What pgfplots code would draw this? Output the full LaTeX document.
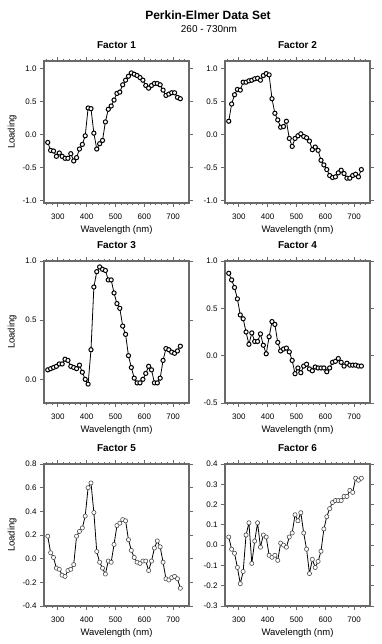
\documentclass[border=0pt]{standalone}
\usepackage{fontspec}
\setmainfont{Liberation Sans}
\usepackage{pgfplots}
\usepackage{pgfplotstable}
\pgfplotsset{compat=1.18}
\definecolor{axgray}{RGB}{105,105,105}

\pgfplotstableread{
x f1 f2 f3 f4 f5 f6
265 -0.12 0.20 0.08 0.87 0.19 0.04
275 -0.24 0.46 0.09 0.80 0.05 -0.02
285 -0.25 0.60 0.10 0.72 0.01 -0.04
295 -0.33 0.68 0.11 0.60 -0.08 -0.11
305 -0.28 0.67 0.13 0.43 -0.09 -0.19
315 -0.33 0.79 0.13 0.39 -0.14 -0.13
325 -0.36 0.79 0.17 0.25 -0.15 0.05
335 -0.36 0.81 0.16 0.12 -0.10 0.11
345 -0.29 0.82 0.11 0.24 -0.09 -0.09
355 -0.40 0.84 0.10 0.15 -0.05 0.02
365 -0.35 0.85 0.09 0.15 0.19 0.11
375 -0.22 0.82 0.12 0.23 0.23 -0.01
385 -0.15 0.89 0.06 0.11 0.26 0.05
395 -0.02 0.92 0.00 0.02 0.36 0.04
405 0.40 0.90 -0.04 0.20 0.60 -0.05
415 0.39 0.54 0.25 0.36 0.64 -0.06
425 0.02 0.32 0.78 0.33 0.39 -0.05
435 -0.22 0.22 0.91 0.14 0.06 -0.075
445 -0.14 0.11 0.95 0.05 -0.03 0.01
455 -0.09 0.12 0.93 0.07 -0.08 0.00
465 0.19 0.20 0.92 0.08 -0.13 -0.01
475 0.38 -0.06 0.84 0.04 -0.02 0.04
485 0.43 -0.18 0.84 -0.05 -0.03 0.06
495 0.52 -0.06 0.73 -0.19 0.12 0.15
505 0.62 -0.02 0.64 -0.13 0.28 0.12
515 0.64 0.01 0.60 -0.18 0.30 0.16
525 0.75 -0.03 0.45 -0.11 0.33 0.06
535 0.82 -0.05 0.38 -0.09 0.32 -0.02
545 0.88 -0.10 0.20 -0.14 0.16 -0.14
555 0.93 -0.23 0.10 -0.16 0.07 -0.07
565 0.91 -0.19 0.01 -0.12 0.01 -0.11
575 0.89 -0.24 -0.03 -0.13 -0.03 -0.08
585 0.86 -0.39 -0.03 -0.13 -0.04 -0.03
595 0.82 -0.46 0.00 -0.13 -0.02 0.08
605 0.74 -0.53 0.05 -0.17 -0.02 0.14
615 0.70 -0.62 0.11 -0.13 -0.10 0.18
625 0.74 -0.65 0.08 -0.07 -0.02 0.21
635 0.77 -0.64 -0.03 -0.06 0.09 0.22
645 0.77 -0.58 -0.03 -0.03 0.15 0.22
655 0.75 -0.54 0.01 -0.07 0.10 0.22
665 0.67 -0.59 0.16 -0.11 -0.03 0.24
675 0.59 -0.66 0.26 -0.08 -0.17 0.24
685 0.61 -0.66 0.25 -0.10 -0.18 0.27
695 0.63 -0.62 0.23 -0.10 -0.16 0.26
705 0.63 -0.60 0.22 -0.10 -0.15 0.33
715 0.56 -0.64 0.24 -0.11 -0.17 0.32
725 0.54 -0.53 0.28 -0.11 -0.25 0.33
}\data

\pgfplotsset{
  panel/.style={
    scale only axis, width=145pt, height=142pt, anchor=south west,
    xmin=252, xmax=755,
    xtick={300,400,500,600,700},
    minor xtick={260,280,...,740},
    tick align=outside,
    axis line style={axgray, line width=1.6pt},
    every tick/.style={axgray, line width=0.8pt},
    major tick length=4pt, minor tick length=2.2pt,
    ytick pos=both, xtick pos=both,
    xticklabel pos=bottom, yticklabel pos=left,
    /pgf/number format/assume math mode=true,
    ticklabel style={font=\fontsize{8}{9}\selectfont},
    xticklabel style={/pgf/number format/.cd, fixed, precision=0, /tikz/.cd, yshift=-3pt},
    yticklabel style={/pgf/number format/.cd, fixed, fixed zerofill, precision=1},
    title style={font=\bfseries\fontsize{10}{12}\selectfont, at={(0.5,1)}, anchor=south, yshift=3pt},
    xlabel={Wavelength (nm)},
    xlabel style={font=\fontsize{9.5}{11}\selectfont, at={(axis description cs:0.5,-0.19)}, anchor=center},
    ylabel style={font=\fontsize{9.5}{11}\selectfont, at={(axis description cs:-0.22,0.5)}, anchor=center, rotate=0},
    clip=false,
  },
  dataline/.style={black, line width=0.8pt, mark=*, mark size=2.1pt, mark options={fill=white, draw=black, line width=1pt}},
}

\begin{document}
\begin{tikzpicture}[x=1pt,y=1pt]
\node[font=\bfseries\fontsize{12}{14}\selectfont] at (208,629) {Perkin-Elmer Data Set};
\node[font=\fontsize{10}{12}\selectfont] at (209,615) {260 - 730nm};

\begin{axis}[panel, at={(44pt,441pt)}, title={Factor 1}, ylabel={Loading},
  ymin=-1.035, ymax=1.11, ytick={-1,-0.5,0,0.5,1}]
\addplot[dataline] table[x=x,y=f1]{\data};
\end{axis}

\begin{axis}[panel, at={(225pt,441pt)}, title={Factor 2},
  ymin=-1.035, ymax=1.11, ytick={-1,-0.5,0,0.5,1}]
\addplot[dataline] table[x=x,y=f2]{\data};
\end{axis}

\begin{axis}[panel, at={(44pt,241pt)}, title={Factor 3}, ylabel={Loading},
  ymin=-0.2, ymax=1.0, ytick={0,0.5,1}]
\addplot[dataline] table[x=x,y=f3]{\data};
\end{axis}

\begin{axis}[panel, at={(225pt,241pt)}, title={Factor 4},
  ymin=-0.5, ymax=1.0, ytick={-0.5,0,0.5,1}]
\addplot[dataline] table[x=x,y=f4]{\data};
\end{axis}

\begin{axis}[panel, at={(44pt,38pt)}, title={Factor 5}, ylabel={Loading},
  ymin=-0.4, ymax=0.8, ytick={-0.4,-0.2,0,0.2,0.4,0.6,0.8}]
\addplot[dataline, mark options={fill=white, draw=black!70, line width=0.6pt}] table[x=x,y=f5]{\data};
\end{axis}

\begin{axis}[panel, at={(225pt,38pt)}, title={Factor 6},
  ymin=-0.3, ymax=0.4, ytick={-0.3,-0.2,-0.1,0,0.1,0.2,0.3,0.4}]
\addplot[dataline, mark options={fill=white, draw=black!70, line width=0.6pt}] table[x=x,y=f6]{\data};
\end{axis}

\pgfresetboundingbox
\path[use as bounding box] (0,0) rectangle (381,644);
\end{tikzpicture}
\end{document}
